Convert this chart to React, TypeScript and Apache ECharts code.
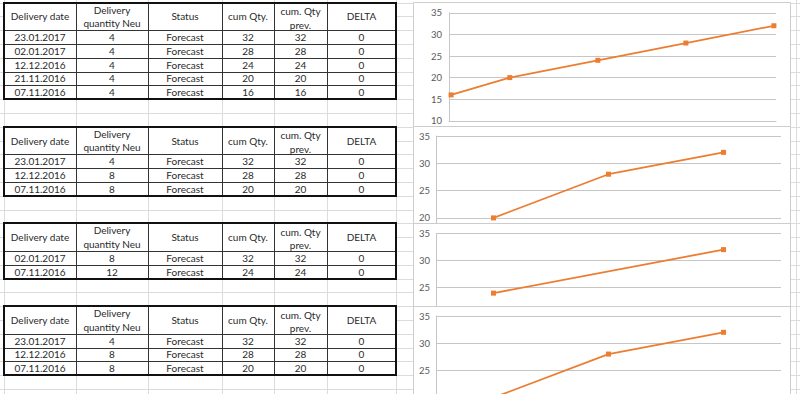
import React, { useEffect, useRef } from 'react';
import * as echarts from 'echarts';

// ---------- data ----------
const HEADERS = ['Delivery date', 'Delivery\nquantity Neu', 'Status', 'cum Qty.', 'cum. Qty\nprev.', 'DELTA'];

// Table 1
const t1Dates = ['23.01.2017', '02.01.2017', '12.12.2016', '21.11.2016', '07.11.2016'];
const t1Qty = [4, 4, 4, 4, 4];
const t1Status = ['Forecast', 'Forecast', 'Forecast', 'Forecast', 'Forecast'];
const t1Cum = [32, 28, 24, 20, 16];
const t1Prev = [32, 28, 24, 20, 16];
const t1Delta = [0, 0, 0, 0, 0];

// Table 2
const t2Dates = ['23.01.2017', '12.12.2016', '07.11.2016'];
const t2Qty = [4, 8, 8];
const t2Status = ['Forecast', 'Forecast', 'Forecast'];
const t2Cum = [32, 28, 20];
const t2Prev = [32, 28, 20];
const t2Delta = [0, 0, 0];

// Table 3
const t3Dates = ['02.01.2017', '07.11.2016'];
const t3Qty = [8, 12];
const t3Status = ['Forecast', 'Forecast'];
const t3Cum = [32, 24];
const t3Prev = [32, 24];
const t3Delta = [0, 0];

// Table 4
const t4Dates = ['23.01.2017', '12.12.2016', '07.11.2016'];
const t4Qty = [4, 8, 8];
const t4Status = ['Forecast', 'Forecast', 'Forecast'];
const t4Cum = [32, 28, 20];
const t4Prev = [32, 28, 20];
const t4Delta = [0, 0, 0];

// value axes of the four charts
const Y_MINS = [10, 10, 10, 20];
const Y_MAX = 35;
const Y_STEP = 5;

// ---------- layout / style ----------
const COLS = [4, 76, 148, 222, 274, 327, 396];
const ROW_H = 13.8;
const ROW0 = 2.5;
const TABLE_START_ROWS = [0, 9, 16, 22];
const FONT = 'Lato, "Open Sans", Arial, sans-serif';
const ORANGE = '#ED7D31';
const XL_GRID = '#dcdcdc';
const CHART_LINE = '#c6c6c6';
const FRAME = '#cdcdcd';
const TEXT = '#2a2a2a';

const DAY = 86400000;
const parseDate = (s: string) => {
  const [d, m, y] = s.split('.').map(Number);
  return Date.UTC(y, m - 1, d);
};
const px = (v: number) => Math.round(v) + 0.5;

function buildTable(startRow: number, columns: (string | number)[][]) {
  const els: any[] = [];
  const top = ROW0 + startRow * ROW_H;
  const headerBottom = top + 2 * ROW_H;
  const n = columns[0].length;
  const bottom = headerBottom + n * ROW_H;
  const left = COLS[0];
  const right = COLS[COLS.length - 1];
  els.push({ type: 'rect', z: 1, shape: { x: left, y: top, width: right - left, height: bottom - top }, style: { fill: '#fff' } });
  HEADERS.forEach((h, i) => {
    const cx = (COLS[i] + COLS[i + 1]) / 2;
    const twoLines = h.indexOf('\n') >= 0;
    els.push({
      type: 'text', z: 3, x: cx, y: (top + headerBottom) / 2 + (i === 4 ? 1.5 : 0),
      style: { text: h, fill: TEXT, fontSize: 10, fontFamily: FONT, align: 'center', verticalAlign: 'middle', lineHeight: twoLines ? 13.5 : 12 },
    });
  });
  for (let r = 0; r < n; r++) {
    const cy = headerBottom + (r + 0.5) * ROW_H;
    for (let c = 0; c < columns.length; c++) {
      const cx = (COLS[c] + COLS[c + 1]) / 2;
      els.push({
        type: 'text', z: 3, x: cx, y: cy,
        style: { text: String(columns[c][r]), fill: TEXT, fontSize: 10, fontFamily: FONT, align: 'center', verticalAlign: 'middle' },
      });
    }
  }
  for (let r = 0; r < n; r++) {
    const y = px(headerBottom + r * ROW_H);
    els.push({ type: 'line', z: 2, shape: { x1: left, y1: y, x2: right, y2: y }, style: { stroke: '#333', lineWidth: 1 } });
  }
  for (let c = 1; c < COLS.length - 1; c++) {
    const x = px(COLS[c]);
    els.push({ type: 'line', z: 2, shape: { x1: x, y1: top, x2: x, y2: bottom }, style: { stroke: '#333', lineWidth: 1 } });
  }
  els.push({
    type: 'rect', z: 2,
    shape: { x: left, y: Math.round(top), width: right - left, height: Math.round(bottom) - Math.round(top) },
    style: { fill: 'none', stroke: '#111', lineWidth: 2 },
  });
  return els;
}

function excelGrid() {
  const els: any[] = [];
  for (let r = 0; r <= 29; r++) {
    const y = px(ROW0 + r * ROW_H);
    els.push({ type: 'line', z: 0, shape: { x1: 0, y1: y, x2: 800, y2: y }, style: { stroke: XL_GRID, lineWidth: 1 } });
  }
  [...COLS, 796].forEach((x) => {
    els.push({ type: 'line', z: 0, shape: { x1: px(x), y1: 0, x2: px(x), y2: 394 }, style: { stroke: XL_GRID, lineWidth: 1 } });
  });
  return els;
}

const FRAMES = [
  { x: 413, y: 2, h: 124 },
  { x: 413, y: 126, h: 220 },
  { x: 413, y: 223, h: 220 },
  { x: 413, y: 306, h: 220 },
];
const PX_PER_STEP = [21.6, 27.3, 27.2, 27.2];
const GRID_POS = [
  { left: 449, top: 12.8, width: 327 },
  { left: 436, top: 136, width: 345 },
  { left: 436, top: 233.3, width: 345 },
  { left: 436, top: 316, width: 345 },
];
const LABEL_MARGIN = [7, 6, 6, 6];

export default function App() {
  const ref = useRef<HTMLDivElement>(null);

  useEffect(() => {
    if (!ref.current) return;
    const chart = echarts.init(ref.current, null, { renderer: 'svg' });

    const graphics: any[] = [...excelGrid()];
    const tables = [
      [t1Dates, t1Qty, t1Status, t1Cum, t1Prev, t1Delta],
      [t2Dates, t2Qty, t2Status, t2Cum, t2Prev, t2Delta],
      [t3Dates, t3Qty, t3Status, t3Cum, t3Prev, t3Delta],
      [t4Dates, t4Qty, t4Status, t4Cum, t4Prev, t4Delta],
    ];
    tables.forEach((t, i) => graphics.push(...buildTable(TABLE_START_ROWS[i], t)));
    FRAMES.forEach((f, k) => {
      graphics.push({
        type: 'rect', z: 10 * (k + 1),
        shape: { x: f.x + 0.5, y: f.y + 0.5, width: 790 - f.x, height: f.h },
        style: { fill: '#fff', stroke: FRAME, lineWidth: 1 },
      });
    });

    const baseZ = (k: number) => 10 * (k + 1);

    const c1Times = t1Dates.map(parseDate);
    const c1Min = Math.min(...c1Times) - DAY / 2;
    const c1Max = Math.max(...c1Times) + DAY / 2;
    const c3Times = t3Dates.map(parseDate);
    const c3Min = Math.min(...c3Times) - 14 * DAY;
    const c3Max = Math.max(...c3Times) + 14 * DAY;

    const hiddenX = {
      axisLabel: { show: false },
      axisTick: { show: false },
      splitLine: { show: false },
      axisLine: { show: true, lineStyle: { color: CHART_LINE, width: 1 } },
    };

    const xAxes: any[] = [
      { gridIndex: 0, type: 'time', min: c1Min, max: c1Max, z: baseZ(0) + 1, ...hiddenX },
      { gridIndex: 1, type: 'category', boundaryGap: true, data: [...t2Dates].reverse(), z: baseZ(1) + 1, ...hiddenX },
      { gridIndex: 2, type: 'time', min: c3Min, max: c3Max, z: baseZ(2) + 1, ...hiddenX },
      { gridIndex: 3, type: 'category', boundaryGap: true, data: [...t4Dates].reverse(), z: baseZ(3) + 1, ...hiddenX },
    ];
    const yAxes: any[] = GRID_POS.map((_, k) => ({
      gridIndex: k,
      type: 'value',
      min: Y_MINS[k],
      max: Y_MAX,
      interval: Y_STEP,
      z: baseZ(k) + 1,
      axisLine: { show: true, lineStyle: { color: CHART_LINE, width: 1 } },
      axisTick: { show: false },
      splitLine: { show: true, lineStyle: { color: CHART_LINE, width: 1 } },
      axisLabel: {
        margin: LABEL_MARGIN[k], color: '#595959', fontSize: 9.5, fontFamily: FONT,
        showMinLabel: k === 3 ? false : true,
      },
    }));

    const lineStyle = {
      type: 'line',
      symbol: 'rect',
      symbolSize: 5,
      lineStyle: { color: ORANGE, width: 1.8 },
      itemStyle: { color: ORANGE },
      silent: true,
    };

    const series: any[] = [
      { ...lineStyle, xAxisIndex: 0, yAxisIndex: 0, z: baseZ(0) + 2, data: t1Dates.map((d, i) => [parseDate(d), t1Cum[i]]).reverse() },
      { ...lineStyle, xAxisIndex: 1, yAxisIndex: 1, z: baseZ(1) + 2, data: [...t2Cum].reverse() },
      { ...lineStyle, xAxisIndex: 2, yAxisIndex: 2, z: baseZ(2) + 2, data: t3Dates.map((d, i) => [parseDate(d), t3Cum[i]]).reverse() },
      { ...lineStyle, xAxisIndex: 3, yAxisIndex: 3, z: baseZ(3) + 2, data: [...t4Cum].reverse() },
    ];

    chart.setOption({
      animation: false,
      backgroundColor: '#fff',
      grid: GRID_POS.map((g, k) => ({
        ...g,
        height: ((Y_MAX - Y_MINS[k]) / Y_STEP) * PX_PER_STEP[k],
        z: baseZ(k) + 1, show: false, containLabel: false, outerBoundsMode: 'none',
      })),
      xAxis: xAxes,
      yAxis: yAxes,
      series,
      graphic: { elements: graphics },
    });

    return () => chart.dispose();
  }, []);

  return (
    <div
      ref={ref}
      style={{ position: 'absolute', left: 0, top: 0, width: 800, height: 394, background: '#fff' }}
    />
  );
}
